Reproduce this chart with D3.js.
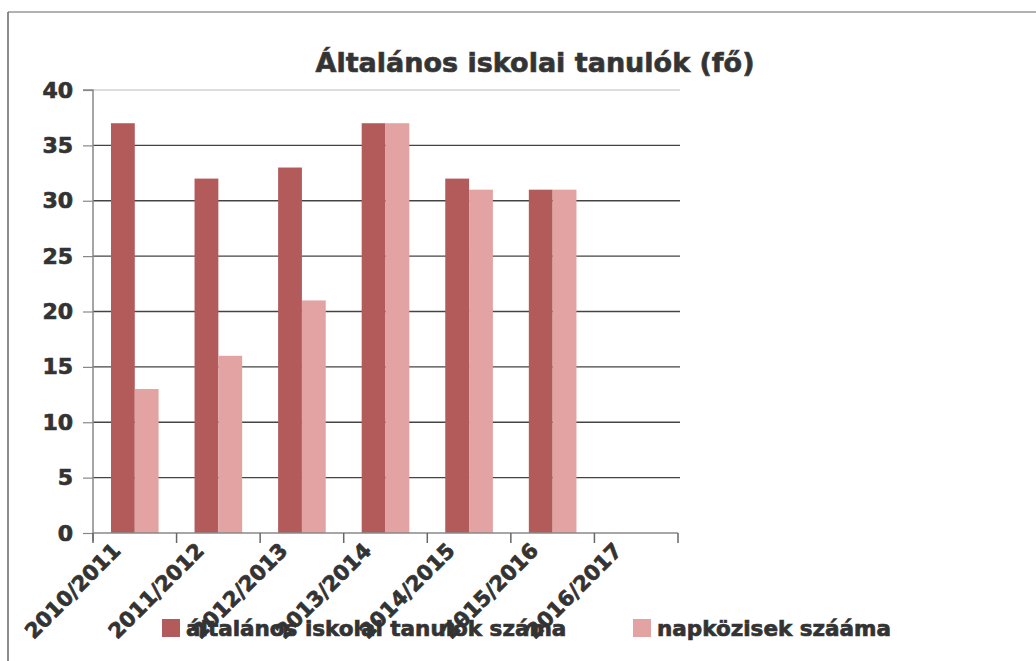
<!DOCTYPE html>
<html>
<head>
<meta charset="utf-8">
<script src="https://cdn.jsdelivr.net/npm/d3@7"></script>
<style>
  html, body { margin: 0; padding: 0; background: #fff; }
  svg { display: block; }
  text { font-family: "DejaVu Sans", Verdana, sans-serif; font-weight: bold; fill: #333; stroke: #333; stroke-width: 0.7px; }
</style>
</head>
<body>
<svg id="chart" width="1036" height="661"></svg>
<script>
const categories = ["2010/2011", "2011/2012", "2012/2013", "2013/2014", "2014/2015", "2015/2016", "2016/2017"];
const seriesNames = ["általános iskolai tanulók száma", "napközisek szááma"];
const pupils = [37, 32, 33, 37, 32, 31, 0];
const dayCare = [13, 16, 21, 37, 31, 31, 0];
const yTicks = [0, 5, 10, 15, 20, 25, 30, 35, 40];
const title = "Általános iskolai tanulók (fő)";
const colors = ["#b35b5b", "#e4a3a3"];

const svg = d3.select("#chart");

// frame lines
svg.append("line").attr("x1", 8).attr("x2", 1036).attr("y1", 12).attr("y2", 12).attr("stroke", "#999").attr("stroke-width", 1.5);
svg.append("line").attr("x1", 8).attr("x2", 8).attr("y1", 12).attr("y2", 661).attr("stroke", "#666").attr("stroke-width", 1.5);

const pLeft = 93, pRight = 678, pTop = 90, pBottom = 533;

const y = d3.scaleLinear().domain([0, 40]).range([pBottom, pTop]);
const x0 = d3.scaleBand().domain(categories).range([pLeft, pRight]).paddingInner(0.43).paddingOuter(0.215);
const x1 = d3.scaleBand().domain(seriesNames).range([0, x0.bandwidth()]);
const step = x0.step();

// gridlines
svg.append("g").selectAll("line").data(yTicks.filter(d => d > 0)).join("line")
  .attr("x1", pLeft).attr("x2", pRight + 2)
  .attr("y1", d => y(d)).attr("y2", d => y(d))
  .attr("stroke", d => d === 40 ? "#bbb" : "#444")
  .attr("stroke-width", d => d === 40 ? 1 : 1.4);

// bars
const data = categories.map((c, i) => ({ cat: c, vals: [pupils[i], dayCare[i]] }));
const groups = svg.append("g").selectAll("g").data(data).join("g")
  .attr("transform", d => `translate(${x0(d.cat)},0)`);
groups.selectAll("rect").data(d => d.vals.map((v, j) => ({ v, s: seriesNames[j], j })))
  .join("rect")
  .attr("x", d => x1(d.s))
  .attr("width", x1.bandwidth())
  .attr("y", d => y(d.v))
  .attr("height", d => y(0) - y(d.v))
  .attr("fill", d => colors[d.j]);

// y axis
const yAxis = d3.axisLeft(y).tickValues(yTicks).tickSize(10).tickPadding(10);
const yg = svg.append("g").attr("transform", `translate(${pLeft},0)`).call(yAxis);
yg.select(".domain").attr("stroke", "#888").attr("stroke-width", 1.5).attr("d", `M-10,${pTop}H0V${pBottom + 8}`);
yg.selectAll(".tick line").attr("stroke", "#888").attr("stroke-width", 1.2);
yg.selectAll(".tick text").attr("font-size", 22).attr("fill", "#333")
  .style("font-family", "'DejaVu Sans', Verdana, sans-serif").style("font-weight", "bold");

// x axis with ticks at band boundaries
const boundaries = d3.range(categories.length + 1).map(i => pLeft + i * step);
svg.append("line").attr("x1", pLeft).attr("x2", pRight).attr("y1", pBottom).attr("y2", pBottom)
  .attr("stroke", "#888").attr("stroke-width", 1.5);
svg.append("g").selectAll("line").data(boundaries).join("line")
  .attr("x1", d => d).attr("x2", d => d)
  .attr("y1", pBottom).attr("y2", pBottom + 10)
  .attr("stroke", "#666").attr("stroke-width", 1.5);

// x labels rotated
svg.append("g").selectAll("text").data(categories).join("text")
  .attr("transform", d => `translate(${x0(d) + x0.bandwidth() / 2 - 13},${pBottom + 19}) rotate(-45)`)
  .attr("text-anchor", "end")
  .attr("font-size", 21)
  .text(d => d);

// title
svg.append("text").attr("x", 535).attr("y", 72).attr("text-anchor", "middle")
  .attr("font-size", 27).attr("fill", "#404040").style("stroke", "#404040").text(title);

// legend
const legendX = [162, 633];
const lg = svg.append("g").selectAll("g").data(seriesNames).join("g")
  .attr("transform", (d, i) => `translate(${legendX[i]},619)`);
lg.append("rect").attr("width", 18).attr("height", 18).attr("fill", (d, i) => colors[i]);
lg.append("text").attr("x", 24).attr("y", 17).attr("font-size", 21.5).text(d => d);
</script>
</body>
</html>
